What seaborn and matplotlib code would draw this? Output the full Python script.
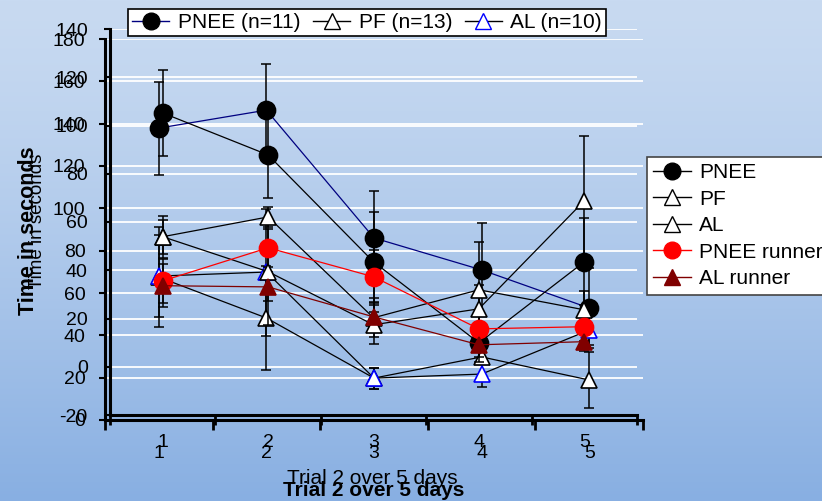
import numpy as np
import matplotlib
matplotlib.use("Agg")
import matplotlib.pyplot as plt
import seaborn as sns
from matplotlib.lines import Line2D

# ---------------- data ----------------
days = [1, 2, 3, 4, 5]
day_labels = ["1", "2", "3", "4", "5"]

# Chart A (axis 0 - 180)
a_pnee = [137.9, 146.4, 86.0, 70.9, 52.9]
a_pnee_err = [22, 22, 22, 22, 19]
a_pf = [67.5, 48.2, 19.8, 29.8, 18.9]
a_pf_err = [23.6, 24.6, 5, 10, 13]
a_al = [68.0, 69.9, 19.8, 21.7, 42.5]
a_al_err = [19.5, 30, 5, 6, 7]

# Chart B (axis -20 - 140)
b_pnee = [105.2, 87.8, 43.5, 9.9, 43.5]
b_pnee_err = [17.8, 17.8, 20.7, 8, 18]
b_pf = [53.9, 62.1, 20.3, 31.9, 23.6]
b_pf_err = [8.7, 4, 8, 20, 8]
b_al = [53.9, 39.4, 17.4, 24.0, 68.8]
b_al_err = [7, 22, 8, 10, 27]
b_pnee_run = [35.6, 49.3, 37.3, 15.7, 16.6]
b_pnee_run_err = [9, 8, 11, 6, 6]
b_al_run = [33.6, 33.1, 20.7, 9.1, 10.4]
b_al_run_err = [9, 6, 6, 5, 4]

a_yticks = list(range(0, 181, 20))
b_yticks = list(range(-20, 141, 20))

plt.rcParams["font.family"] = ["Liberation Sans", "DejaVu Sans"]

W, H = 822, 501
fig = plt.figure(figsize=(W / 100, H / 100), dpi=100)

# background gradient
bg = fig.add_axes([0, 0, 1, 1], zorder=-10)
t = np.linspace(0, 1, 256)[:, None, None]
top = np.array([200, 218, 241]) / 255
bot = np.array([136, 175, 226]) / 255
img = top + (bot - top) * t ** 1.3
bg.imshow(img, aspect="auto", extent=[0, 1, 0, 1])
bg.axis("off")


def px_axes(l, tp, r, b, z):
    return fig.add_axes([l / W, 1 - b / H, (r - l) / W, (b - tp) / H], zorder=z)


gB = px_axes(110, 29, 637, 415, 0)
axA = px_axes(105, 39, 643, 420, 1)
axB = px_axes(110, 29, 637, 415, 2)

for ax in (gB, axA, axB):
    ax.set_facecolor("none")
    ax.set_xlim(0.5, 5.5)
gB.set_ylim(-20, 140)
axA.set_ylim(0, 180)
axB.set_ylim(-20, 140)

for v in range(0, 141, 20):
    gB.axhline(v, color="white", lw=1.3)
gB.axis("off")
for v in range(20, 181, 20):
    axA.axhline(v, color="white", lw=1.3, zorder=0.5)


def series(ax, y, err, lc, marker, fc, ec, ms):
    ax.errorbar(days, y, yerr=err, fmt="none", ecolor="black", elinewidth=1.1,
                capsize=3.5, capthick=1.1, zorder=2)
    sns.lineplot(x=days, y=y, ax=ax, color=lc, lw=0.9, marker=marker,
                 markersize=ms, markerfacecolor=fc, markeredgecolor=ec,
                 markeredgewidth=1.2, errorbar=None, legend=False, zorder=3)


series(axA, a_pnee, a_pnee_err, "#000080", "o", "black", "black", 13)
series(axA, a_pf, a_pf_err, "black", "^", "white", "black", 12)
series(axA, a_al, a_al_err, "black", "^", "white", "#0000ff", 12)

series(axB, b_pnee, b_pnee_err, "black", "o", "black", "black", 13)
series(axB, b_pf, b_pf_err, "black", "^", "white", "black", 12)
series(axB, b_al, b_al_err, "black", "^", "white", "black", 12)
series(axB, b_pnee_run, b_pnee_run_err, "#ff0000", "o", "#ff0000", "#ff0000", 13)
series(axB, b_al_run, b_al_run_err, "#800000", "^", "#800000", "#800000", 12)

for ax, yt, ypad, xpad in ((axA, a_yticks, 10, 18), (axB, b_yticks, 12, 14)):
    for s in ("top", "right"):
        ax.spines[s].set_visible(False)
    for s in ("left", "bottom"):
        ax.spines[s].set_linewidth(2.2)
        ax.spines[s].set_color("black")
    ax.set_yticks(yt)
    ax.set_yticklabels([str(v) for v in yt])
    ax.tick_params(axis="y", direction="out", length=4, width=1.5,
                   pad=ypad, labelsize=14)
    ax.set_xticks([0.5, 1.5, 2.5, 3.5, 4.5, 5.5])
    ax.set_xticklabels([""] * 6)
    ax.tick_params(axis="x", which="major", direction="out", length=7, width=2)
    ax.set_xticks(days, minor=True)
    ax.set_xticklabels(day_labels, minor=True)
    ax.tick_params(axis="x", which="minor", length=0, pad=xpad, labelsize=14)
    ax.set_xlabel("")
    ax.set_ylabel("")

# axis titles
fig.text(29 / W, 1 - 231 / H, "Time in seconds", rotation=90, fontsize=15.5,
         fontweight="bold", ha="center", va="center")
fig.text(38 / W, 1 - 221 / H, "Time in seconds", rotation=90, fontsize=13.5,
         ha="center", va="center")
fig.text(372 / W, 1 - 478 / H, "Trial 2 over 5 days", fontsize=15,
         ha="center", va="center")
fig.text(374 / W, 1 - 490 / H, "Trial 2 over 5 days", fontsize=15,
         fontweight="bold", ha="center", va="center")

# legend A (top)
hA = [
    Line2D([], [], color="#000080", lw=1, marker="o", mfc="black", mec="black", ms=12),
    Line2D([], [], color="black", lw=1, marker="^", mfc="white", mec="black", ms=12),
    Line2D([], [], color="black", lw=1, marker="^", mfc="white", mec="#0000ff", ms=12),
]
legA = fig.legend(hA, ["PNEE (n=11)", "PF (n=13)", "AL (n=10)"], loc="center",
                  bbox_to_anchor=(367 / W, 1 - 22.5 / H), ncol=3, frameon=True,
                  fancybox=False, edgecolor="black", facecolor="white",
                  framealpha=1, fontsize=15, handlelength=1.8, columnspacing=0.6,
                  handletextpad=0.4, borderpad=0.2, borderaxespad=0)
legA.get_frame().set_linewidth(1.2)

# legend B (right)
hB = [
    Line2D([], [], color="black", lw=1, marker="o", mfc="black", mec="black", ms=12),
    Line2D([], [], color="black", lw=1, marker="^", mfc="white", mec="black", ms=12),
    Line2D([], [], color="black", lw=1, marker="^", mfc="white", mec="black", ms=12),
    Line2D([], [], color="#ff0000", lw=1, marker="o", mfc="#ff0000", mec="#ff0000", ms=12),
    Line2D([], [], color="#800000", lw=1, marker="^", mfc="#800000", mec="#800000", ms=12),
]
legB = fig.legend(hB, ["PNEE", "PF", "AL", "PNEE runner", "AL runner"],
                  loc="upper left", bbox_to_anchor=(647 / W, 1 - 157 / H),
                  frameon=True, fancybox=False, edgecolor="#444444",
                  facecolor="white", framealpha=1, fontsize=15,
                  handlelength=1.8, handletextpad=0.4, labelspacing=0.36,
                  borderpad=0.3, borderaxespad=0)
legB.get_frame().set_linewidth(1.2)

fig.savefig("out.png", dpi=100)
